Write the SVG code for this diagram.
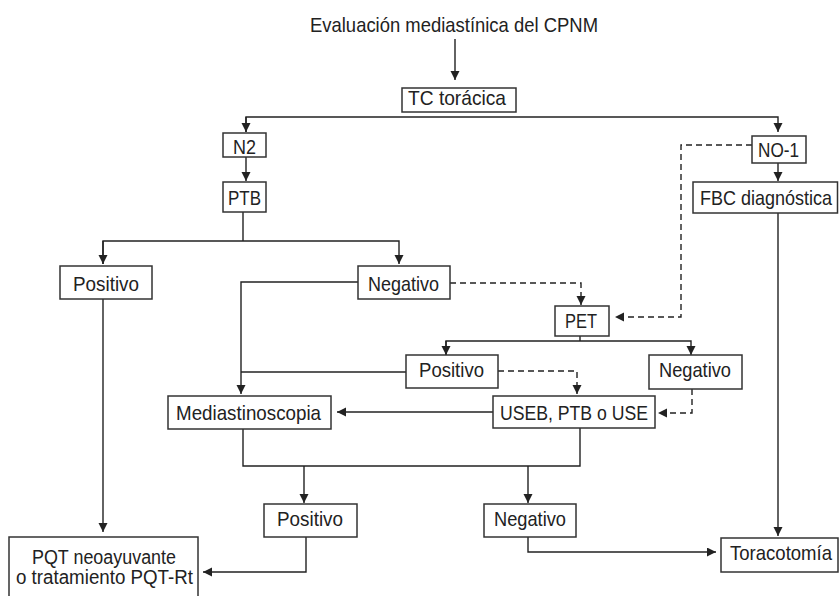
<svg xmlns="http://www.w3.org/2000/svg" width="839" height="596" viewBox="0 0 839 596">
<style>
.box{fill:#fff;stroke:#333;stroke-width:1.5}
.t{font-family:"Liberation Sans",Arial,sans-serif;font-size:21px;fill:#222;text-anchor:middle}
.s{font-size:19.5px}
.c{fill:none;stroke:#222;stroke-width:1.4}
.d{fill:none;stroke:#222;stroke-width:1.4;stroke-dasharray:6 4}
</style>
<defs>
<marker id="ah" markerUnits="userSpaceOnUse" markerWidth="10" markerHeight="10" refX="9" refY="4.5" orient="auto">
<path d="M0,0 L9,4.5 L0,9 z" fill="#222"/>
</marker>
</defs>
<rect width="839" height="596" fill="#fff"/>
<g id="connectors">
<path class="c" d="M455,39 V80" marker-end="url(#ah)"/>
<path class="c" d="M246,132 V117 H778 V132" marker-end="url(#ah)"/>
<path class="c" d="M246,117 V132" marker-end="url(#ah)"/>
<path class="c" d="M246,157 V181" marker-end="url(#ah)"/>
<path class="c" d="M243,212 V241"/>
<path class="c" d="M103,264 V241 H399 V264" marker-end="url(#ah)"/>
<path class="c" d="M103,241 V264" marker-end="url(#ah)"/>
<path class="c" d="M358,282 H241 V394" marker-end="url(#ah)"/>
<path class="c" d="M406,372 H241"/>
<path class="c" d="M493,412 H337" marker-end="url(#ah)"/>
<path class="c" d="M580,336 V341"/>
<path class="c" d="M446,355 V341 H691 V355" marker-end="url(#ah)"/>
<path class="c" d="M446,341 V355" marker-end="url(#ah)"/>
<path class="c" d="M778,163 V181" marker-end="url(#ah)"/>
<path class="c" d="M778,213 V536" marker-end="url(#ah)"/>
<path class="c" d="M243,429 V466 H580 V428"/>
<path class="c" d="M304,466 V503" marker-end="url(#ah)"/>
<path class="c" d="M528,466 V503" marker-end="url(#ah)"/>
<path class="c" d="M103,299 V532" marker-end="url(#ah)"/>
<path class="c" d="M306,537 V572 H203" marker-end="url(#ah)"/>
<path class="c" d="M528,537 V552 H716" marker-end="url(#ah)"/>
<path class="d" d="M450,283 H581 V305" marker-end="url(#ah)"/>
<path class="d" d="M752,145 H681 V317 H615" marker-end="url(#ah)"/>
<path class="d" d="M498,371 H577 V394" marker-end="url(#ah)"/>
<path class="d" d="M692,389 V413 H658" marker-end="url(#ah)"/>
</g>
<g id="title"><text class="t" x="454" y="32" textLength="288" lengthAdjust="spacingAndGlyphs">Evaluación mediastínica del CPNM</text></g>
<g id="tc"><rect class="box" x="402" y="88" width="114" height="24"/><text class="t" x="457" y="105" textLength="98" lengthAdjust="spacingAndGlyphs">TC torácica</text></g>
<g id="n2"><rect class="box" x="223" y="133" width="43" height="24"/><text class="t" x="244.5" y="154" textLength="23" lengthAdjust="spacingAndGlyphs">N2</text></g>
<g id="ptb"><rect class="box" x="223" y="182" width="43" height="30"/><text class="t" x="244.5" y="205" textLength="33" lengthAdjust="spacingAndGlyphs">PTB</text></g>
<g id="positivo1"><rect class="box" x="60" y="266" width="92" height="33"/><text class="t" x="106" y="291" textLength="66" lengthAdjust="spacingAndGlyphs">Positivo</text></g>
<g id="negativo1"><rect class="box" x="358" y="266" width="92" height="33"/><text class="t" x="403.5" y="291" textLength="71" lengthAdjust="spacingAndGlyphs">Negativo</text></g>
<g id="no1"><rect class="box" x="752" y="136" width="54" height="27"/><text class="t" x="778.5" y="157" textLength="41" lengthAdjust="spacingAndGlyphs">NO-1</text></g>
<g id="fbc"><rect class="box" x="693" y="182" width="144.5" height="31"/><text class="t" x="766" y="205" textLength="132" lengthAdjust="spacingAndGlyphs">FBC diagnóstica</text></g>
<g id="pet"><rect class="box" x="555" y="306" width="54" height="30"/><text class="t" x="581" y="328" textLength="32" lengthAdjust="spacingAndGlyphs">PET</text></g>
<g id="positivo2"><rect class="box" x="406" y="355" width="92" height="33"/><text class="t" x="451.5" y="377" textLength="65" lengthAdjust="spacingAndGlyphs">Positivo</text></g>
<g id="negativo2"><rect class="box" x="649" y="355" width="93" height="34"/><text class="t" x="695" y="377" textLength="72" lengthAdjust="spacingAndGlyphs">Negativo</text></g>
<g id="mediastinoscopia"><rect class="box" x="168" y="396" width="163" height="33"/><text class="t" x="248.5" y="420" textLength="145" lengthAdjust="spacingAndGlyphs">Mediastinoscopia</text></g>
<g id="useb"><rect class="box" x="493" y="396" width="162" height="32"/><text class="t" x="574" y="420" textLength="148" lengthAdjust="spacingAndGlyphs">USEB, PTB o USE</text></g>
<g id="positivo3"><rect class="box" x="264" y="504" width="93" height="33"/><text class="t" x="310" y="526" textLength="66" lengthAdjust="spacingAndGlyphs">Positivo</text></g>
<g id="negativo3"><rect class="box" x="484" y="504" width="92" height="33"/><text class="t" x="530" y="526" textLength="72" lengthAdjust="spacingAndGlyphs">Negativo</text></g>
<g id="toracotomia"><rect class="box" x="721" y="538" width="117" height="34"/><text class="t" x="781" y="560" textLength="102" lengthAdjust="spacingAndGlyphs">Toracotomía</text></g>
<g id="pqt"><rect class="box" x="9" y="537" width="189" height="70"/><text class="t s" x="104" y="564" textLength="144" lengthAdjust="spacingAndGlyphs">PQT neoayuvante</text><text class="t s" x="104.5" y="584" textLength="177" lengthAdjust="spacingAndGlyphs">o tratamiento PQT-Rt</text></g>
</svg>
